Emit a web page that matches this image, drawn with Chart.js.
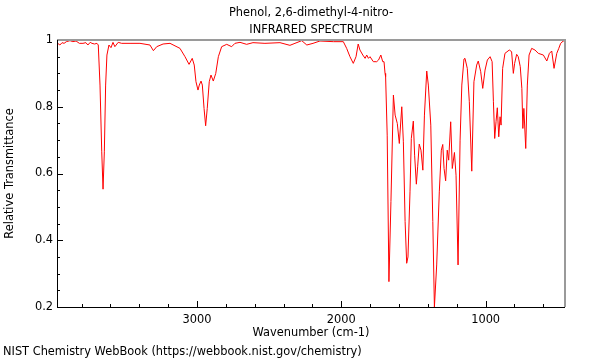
<!DOCTYPE html>
<html>
<head>
<meta charset="utf-8">
<title>Phenol, 2,6-dimethyl-4-nitro- IR spectrum</title>
<script src="https://cdn.jsdelivr.net/npm/chart.js@4.4.1/dist/chart.umd.min.js"></script>
<style>
  html, body { margin: 0; padding: 0; background: #fff; }
  canvas { display: block; }
</style>
</head>
<body>
<canvas id="irChart" width="600" height="360"></canvas>
<script>
// values
const wavenumbers = [
  3965, 3950, 3935, 3921, 3905, 3880, 3860, 3838, 3815, 3790, 3770, 3756, 3740, 3728, 3710, 3693,
  3684, 3672, 3660, 3651, 3642, 3633, 3624, 3610, 3596, 3582, 3569, 3546, 3522, 3464, 3395, 3326,
  3302, 3279, 3235, 3187, 3118, 3083, 3055, 3033, 3019, 3007, 2993, 2984, 2972, 2963, 2951, 2940,
  2929, 2915, 2903, 2887, 2870, 2852, 2829, 2794, 2760, 2737, 2702, 2656, 2612, 2529, 2425, 2356,
  2321, 2274, 2239, 2196, 2148, 2055, 1986, 1963, 1940, 1917, 1898, 1883, 1871, 1851, 1835, 1824,
  1812, 1801, 1778, 1755, 1742, 1726, 1713, 1704, 1697, 1693, 1682, 1670, 1656, 1639, 1627, 1612,
  1598, 1581, 1570, 1558, 1547, 1538, 1524, 1515, 1501, 1492, 1480, 1471, 1460, 1448, 1435, 1424,
  1408, 1397, 1380, 1366, 1355, 1339, 1321, 1307, 1297, 1288, 1277, 1266, 1256, 1242, 1231, 1216,
  1205, 1191, 1177, 1165, 1150, 1143, 1127, 1113, 1096, 1081, 1062, 1051, 1034, 1020, 1004, 988,
  969, 955, 946, 937, 928, 919, 909, 900, 893, 882, 866, 836, 820, 808, 799, 785,
  774, 760, 749, 742, 735, 722, 711, 699, 681, 658, 635, 600, 576, 558, 542, 526,
  507, 493, 480, 462, 450
];
const transmittance = [
  0.990, 0.985, 0.992, 0.990, 0.995, 0.998, 0.995, 0.997, 0.990, 0.990, 0.992, 0.985, 0.993, 0.990, 0.988, 0.990,
  0.985, 0.865, 0.665, 0.553, 0.665, 0.865, 0.955, 0.985, 0.977, 0.993, 0.980, 0.993, 0.990, 0.990, 0.990, 0.985,
  0.968, 0.980, 0.988, 0.990, 0.975, 0.950, 0.927, 0.945, 0.925, 0.875, 0.850, 0.865, 0.877, 0.865, 0.795, 0.743,
  0.795, 0.875, 0.895, 0.877, 0.900, 0.950, 0.980, 0.987, 0.980, 0.990, 0.993, 0.987, 0.992, 0.990, 0.992, 0.984,
  0.990, 0.998, 0.985, 0.990, 0.997, 0.995, 0.995, 0.975, 0.950, 0.930, 0.950, 0.988, 0.970, 0.955, 0.945, 0.955,
  0.945, 0.950, 0.935, 0.935, 0.940, 0.955, 0.935, 0.935, 0.900, 0.890, 0.715, 0.276, 0.516, 0.835, 0.775, 0.750,
  0.690, 0.800, 0.695, 0.456, 0.331, 0.350, 0.545, 0.705, 0.757, 0.655, 0.568, 0.620, 0.688, 0.670, 0.610, 0.775,
  0.907, 0.865, 0.745, 0.456, 0.200, 0.326, 0.545, 0.670, 0.687, 0.615, 0.578, 0.670, 0.640, 0.755, 0.615, 0.663,
  0.595, 0.326, 0.700, 0.865, 0.943, 0.945, 0.915, 0.815, 0.607, 0.875, 0.925, 0.937, 0.905, 0.855, 0.910, 0.940,
  0.950, 0.935, 0.815, 0.705, 0.755, 0.797, 0.710, 0.770, 0.745, 0.915, 0.960, 0.970, 0.965, 0.900, 0.930, 0.957,
  0.950, 0.920, 0.855, 0.735, 0.795, 0.675, 0.865, 0.955, 0.975, 0.970, 0.960, 0.955, 0.937, 0.960, 0.967, 0.915,
  0.960, 0.975, 0.990, 0.997, 0.995
];

const xMajorTicks = [1000, 2000, 3000];
const xMinorTicks = [600, 800, 1200, 1400, 1600, 1800, 2200, 2400, 2600, 2800, 3200, 3400, 3600, 3800];
const yMajorTicks = [0.2, 0.4, 0.6, 0.8, 1];
const yMinorTicks = [0.25, 0.3, 0.35, 0.45, 0.5, 0.55, 0.65, 0.7, 0.75, 0.85, 0.9, 0.95];

const titleLines = ['Phenol, 2,6-dimethyl-4-nitro-', 'INFRARED SPECTRUM'];
const footerText = 'NIST Chemistry WebBook (https://webbook.nist.gov/chemistry)';

const fontFamily = 'DejaVu Sans';
const baseFont = { family: fontFamily, size: 11.4 };

// title centred over the plot, inward tick marks and the plot frame
const framePlugin = {
    id: 'framePlugin',
    afterDatasetsDraw(chart) {
        const { ctx, chartArea: a, scales: { x, y } } = chart;
        ctx.save();
        ctx.strokeStyle = '#000';
        ctx.lineWidth = 1;
        ctx.beginPath();
        xMajorTicks.concat(xMinorTicks).forEach(v => {
            const px = Math.round(x.getPixelForValue(v)) + 0.5;
            const len = xMajorTicks.includes(v) ? 6 : 3;
            ctx.moveTo(px, a.bottom);
            ctx.lineTo(px, a.bottom - len);
        });
        yMajorTicks.concat(yMinorTicks).forEach(v => {
            const py = Math.round(y.getPixelForValue(v)) + 0.5;
            const len = yMajorTicks.includes(v) ? 6 : 3;
            ctx.moveTo(a.left, py);
            ctx.lineTo(a.left + len, py);
        });
        ctx.stroke();

        // top and right edges in grey
        ctx.strokeStyle = '#9a9a9a';
        ctx.lineWidth = 2;
        ctx.beginPath();
        ctx.moveTo(a.left, a.top);
        ctx.lineTo(a.right, a.top);
        ctx.lineTo(a.right, a.bottom);
        ctx.stroke();

        // left and bottom axes
        ctx.strokeStyle = '#000';
        ctx.lineWidth = 1;
        ctx.beginPath();
        ctx.moveTo(Math.round(a.left) + 0.5, a.top);
        ctx.lineTo(Math.round(a.left) + 0.5, Math.round(a.bottom) + 0.5);
        ctx.lineTo(a.right, Math.round(a.bottom) + 0.5);
        ctx.stroke();

        ctx.fillStyle = '#000';
        ctx.font = '11.4px "' + fontFamily + '"';
        ctx.textAlign = 'center';
        ctx.textBaseline = 'middle';
        const cx = (a.left + a.right) / 2;
        ctx.fillText(titleLines[0], cx, 13);
        ctx.fillText(titleLines[1], cx, 30);
        ctx.restore();
    }
};

const ctx = document.getElementById('irChart').getContext('2d');
const irChart = new Chart(ctx, {
    type: 'line',
    data: {
        datasets: [{
            data: wavenumbers.map((w, i) => ({ x: w, y: transmittance[i] })),
            borderColor: '#ff0000',
            borderWidth: 1,
            pointRadius: 0,
            tension: 0,
            fill: false
        }]
    },
    options: {
        responsive: false,
        animation: false,
        devicePixelRatio: 1,
        layout: { padding: { left: 3, right: 35, top: 40, bottom: 0 } },
        plugins: {
            legend: { display: false },
            tooltip: { enabled: false },
            title: { display: false },
            subtitle: {
                display: true,
                text: footerText,
                position: 'bottom',
                align: 'start',
                color: '#000',
                font: { family: fontFamily, size: 11.4, weight: 'normal', lineHeight: 1.2 },
                padding: { top: 2, bottom: 1.5 }
            }
        },
        scales: {
            x: {
                type: 'linear',
                reverse: true,
                min: 450,
                max: 3970,
                afterBuildTicks: s => { s.ticks = xMajorTicks.map(v => ({ value: v })); },
                afterFit: s => { s.height = 35.8; },
                grid: { display: false, drawTicks: false },
                border: { display: false },
                ticks: {
                    color: '#000', font: baseFont, padding: 6, maxRotation: 0, autoSkip: false,
                    callback: v => String(v)
                },
                title: {
                    display: true,
                    text: 'Wavenumber (cm-1)',
                    color: '#000',
                    font: baseFont,
                    padding: { top: 0, bottom: 3 }
                }
            },
            y: {
                min: 0.2,
                max: 1,
                afterBuildTicks: s => { s.ticks = yMajorTicks.map(v => ({ value: v })); },
                afterFit: s => { s.width = 54; },
                grid: { display: false, drawTicks: false },
                border: { display: false },
                ticks: { color: '#000', font: baseFont, padding: 4, callback: v => String(v) },
                title: {
                    display: true,
                    text: 'Relative Transmittance',
                    color: '#000',
                    font: baseFont,
                    padding: { top: 0, bottom: 0 }
                }
            }
        }
    },
    plugins: [framePlugin]
});
</script>
</body>
</html>
